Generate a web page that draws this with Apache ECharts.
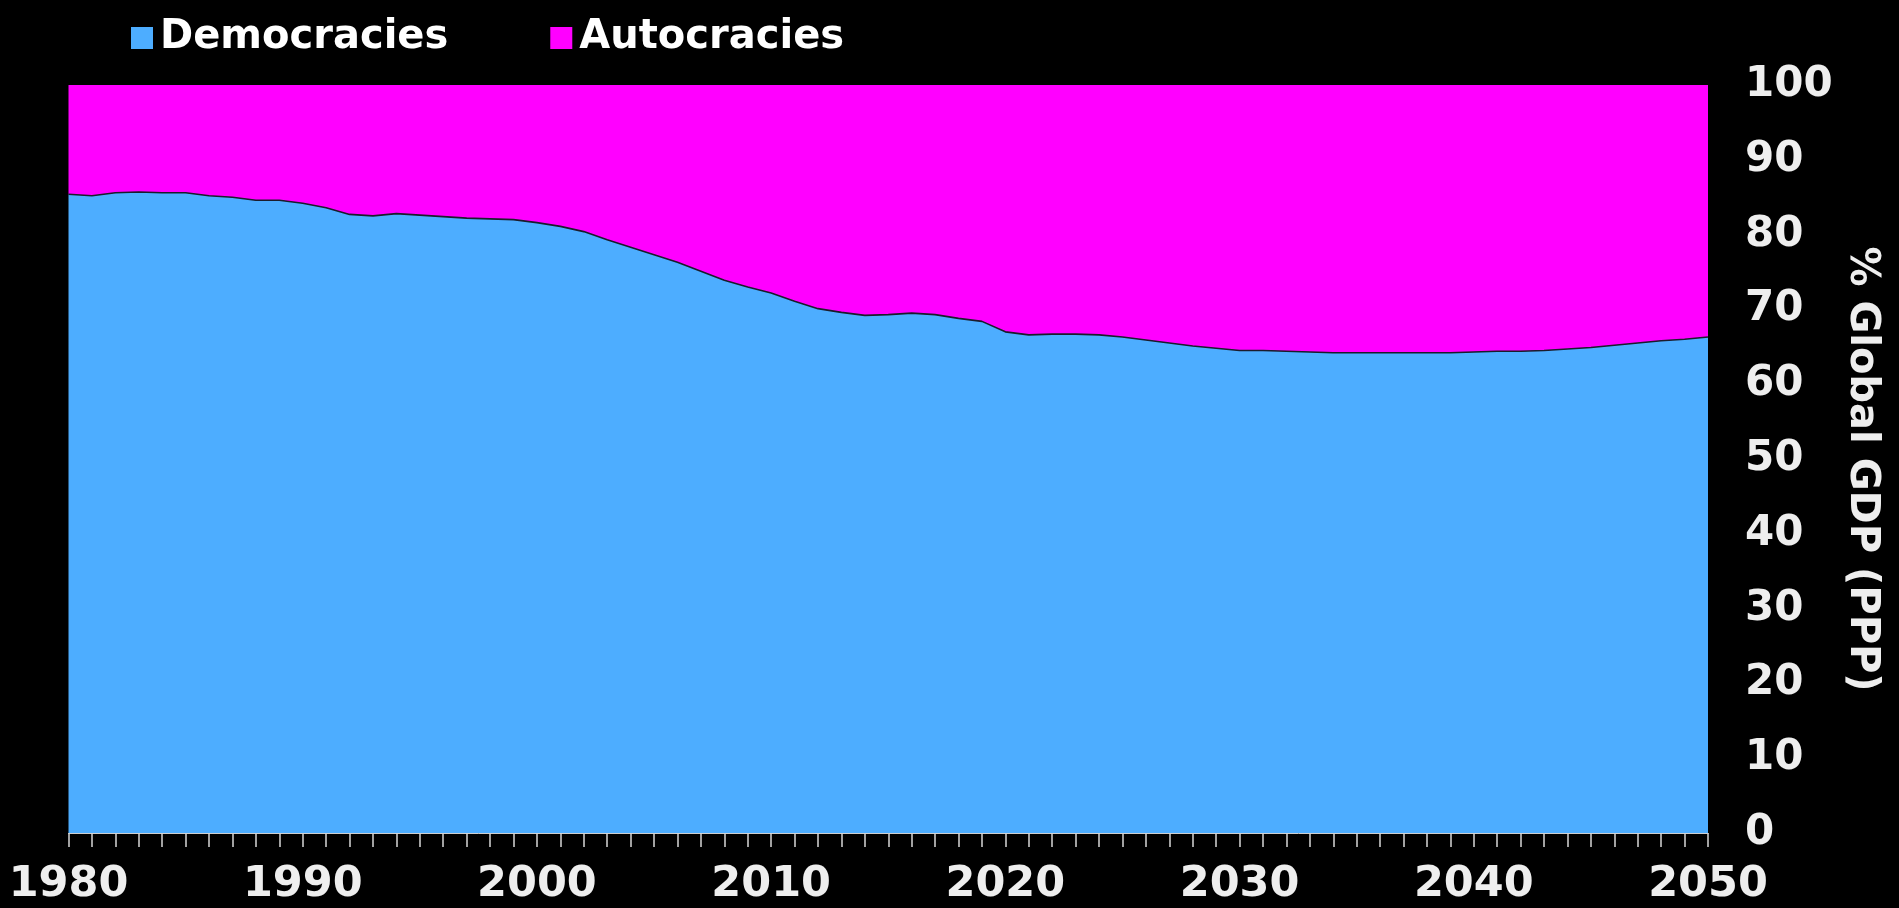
<!DOCTYPE html>
<html>
<head>
<meta charset="utf-8">
<style>
  html, body { margin: 0; padding: 0; background: #000; }
  #chart { width: 1899px; height: 908px; }
</style>
<script src="https://cdn.jsdelivr.net/npm/echarts@6/dist/echarts.min.js"></script>
</head>
<body>
<div id="chart"></div>
<script>
const years = [];
for (let y = 1980; y <= 2050; y++) years.push(String(y));

const democracies = [
  85.4, 85.2, 85.6, 85.7, 85.6, 85.6, 85.2, 85.0, 84.6, 84.6,
  84.2, 83.6, 82.7, 82.5, 82.8, 82.6, 82.4, 82.2, 82.1, 82.0,
  81.6, 81.1, 80.4, 79.3, 78.3, 77.3, 76.3, 75.1, 73.9, 73.0,
  72.2, 71.1, 70.1, 69.6, 69.2, 69.3, 69.5, 69.3, 68.8, 68.4,
  67.0, 66.6, 66.7, 66.7, 66.6, 66.3, 65.9, 65.5, 65.1, 64.8,
  64.5, 64.5, 64.4, 64.3, 64.2, 64.2, 64.2, 64.2, 64.2, 64.2,
  64.3, 64.4, 64.4, 64.5, 64.7, 64.9, 65.2, 65.5, 65.8, 66.0,
  66.3
];

const autocracies = [
  14.6, 14.8, 14.4, 14.3, 14.4, 14.4, 14.8, 15.0, 15.4, 15.4,
  15.8, 16.4, 17.3, 17.5, 17.2, 17.4, 17.6, 17.8, 17.9, 18.0,
  18.4, 18.9, 19.6, 20.7, 21.7, 22.7, 23.7, 24.9, 26.1, 27.0,
  27.8, 28.9, 29.9, 30.4, 30.8, 30.7, 30.5, 30.7, 31.2, 31.6,
  33.0, 33.4, 33.3, 33.3, 33.4, 33.7, 34.1, 34.5, 34.9, 35.2,
  35.5, 35.5, 35.6, 35.7, 35.8, 35.8, 35.8, 35.8, 35.8, 35.8,
  35.7, 35.6, 35.6, 35.5, 35.3, 35.1, 34.8, 34.5, 34.2, 34.0,
  33.7
];

const seriesNames = ['Democracies', 'Autocracies'];
const yTicks = [0, 100, 10];
const yAxisTitle = '% Global GDP (PPP)';

const FONT = "'DejaVu Sans', Verdana, sans-serif";
const chart = echarts.init(document.getElementById('chart'), null, { renderer: 'canvas' });

chart.setOption({
  backgroundColor: '#000000',
  animation: false,
  legend: {
    left: 126,
    top: 13,
    icon: 'rect',
    itemWidth: 22,
    itemHeight: 22,
    itemGap: 102,
    data: seriesNames,
    textStyle: {
      color: '#ffffff',
      fontFamily: FONT,
      fontWeight: 'bold',
      fontSize: 40,
      padding: [0, 0, 0, 2]
    }
  },
  graphic: [
    {
      type: 'text',
      x: 1861,
      y: 469,
      rotation: -Math.PI / 2,
      style: {
        text: yAxisTitle,
        fill: '#eeeeee',
        font: "bold 40px 'DejaVu Sans', Verdana, sans-serif",
        align: 'center',
        verticalAlign: 'middle'
      }
    }
  ],
  grid: { left: 68.5, right: 191, top: 85, bottom: 75, containLabel: false },
  xAxis: {
    type: 'category',
    data: years,
    boundaryGap: false,
    axisLine: { show: true, lineStyle: { color: '#cfcfcf', width: 1 } },
    axisTick: { show: true, interval: 0, length: 14, lineStyle: { color: '#d8d8d8', width: 1.5 } },
    axisLabel: {
      interval: 9,
      color: '#eeeeee',
      fontFamily: FONT,
      fontWeight: 'bold',
      fontSize: 43,
      margin: 30
    },
    splitLine: { show: false }
  },
  yAxis: {
    type: 'value',
    position: 'right',
    min: yTicks[0],
    max: yTicks[1],
    interval: yTicks[2],
    axisLine: { show: false },
    axisTick: { show: false },
    splitLine: { show: false },
    axisLabel: {
      color: '#eeeeee',
      fontFamily: FONT,
      fontWeight: 'bold',
      fontSize: 42,
      margin: 37
    }
  },
  series: [
    {
      name: seriesNames[0],
      type: 'line',
      stack: 'total',
      data: democracies,
      symbol: 'none',
      smooth: false,
      itemStyle: { color: '#4DADFF' },
      lineStyle: { color: '#1c1c2c', width: 1.6 },
      areaStyle: { color: '#4DADFF', opacity: 1 },
      z: 3
    },
    {
      name: seriesNames[1],
      type: 'line',
      stack: 'total',
      data: autocracies,
      symbol: 'none',
      itemStyle: { color: '#FF00FF' },
      lineStyle: { width: 0, color: '#FF00FF' },
      areaStyle: { color: '#FF00FF', opacity: 1 },
      z: 2
    }
  ]
});
</script>
</body>
</html>
